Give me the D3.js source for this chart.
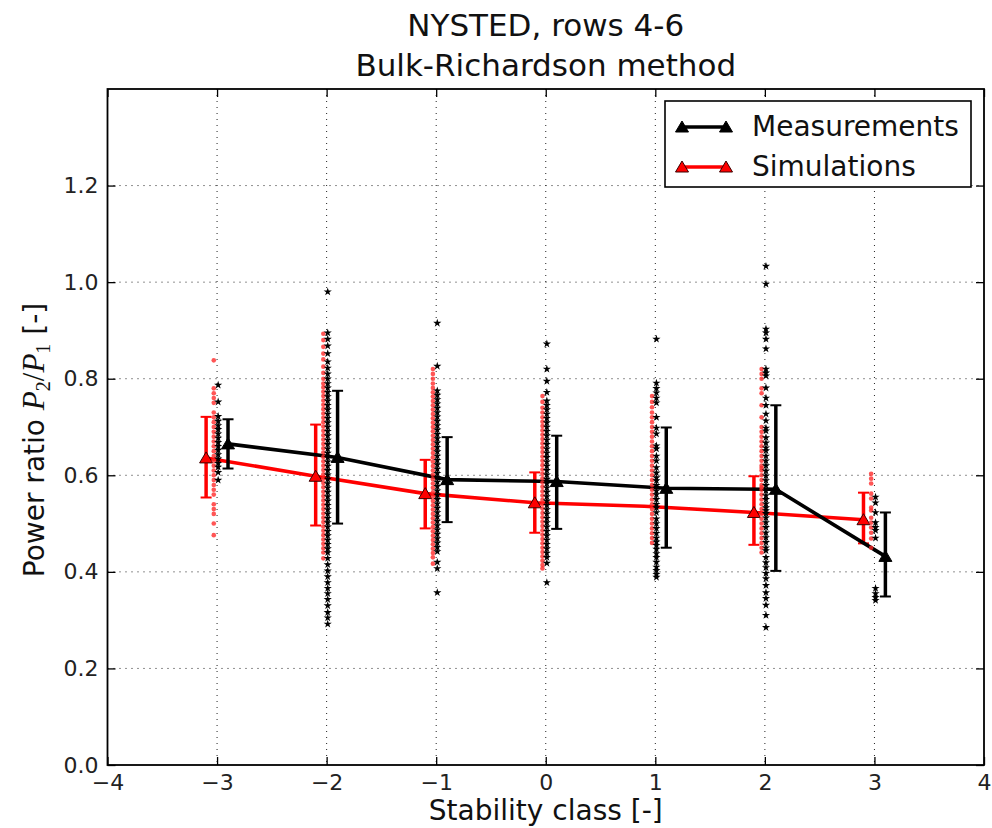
<!DOCTYPE html>
<html>
<head>
<meta charset="utf-8">
<script src="https://cdn.jsdelivr.net/npm/d3@7"></script>
<style>
  body { margin: 0; background: #fff; }
  svg { display: block; font-family: "DejaVu Sans", sans-serif; }
</style>
</head>
<body>
<svg id="chart" width="992" height="828"></svg>
<script>
// Stability classes and tick labels
const classes = [-3, -2, -1, 0, 1, 2, 3];
const xTicks = [-4, -3, -2, -1, 0, 1, 2, 3, 4];
const yTicks = [0, 0.2, 0.4, 0.6, 0.8, 1.0, 1.2];

// Measurements: class means with spread (drawn shifted right of the class)
const measX    = [-2.9, -1.9, -0.9, 0.1, 1.1, 2.1, 3.1];
const measMean = [0.665, 0.637, 0.591, 0.587, 0.573, 0.571, 0.432];
const measLow  = [0.614, 0.500, 0.503, 0.489, 0.450, 0.402, 0.349];
const measHigh = [0.716, 0.775, 0.679, 0.682, 0.699, 0.745, 0.523];

// Simulations: class means with spread (drawn shifted left of the class)
const simX    = [-3.1, -2.1, -1.1, -0.1, 0.9, 1.9, 2.9];
const simMean = [0.636, 0.598, 0.562, 0.543, 0.536, 0.523, 0.508];
const simLow  = [0.554, 0.496, 0.490, 0.481, null, 0.456, 0.459];
const simHigh = [0.721, 0.705, 0.632, 0.606, null, 0.598, 0.564];

// Individual 10-min samples per stability class (same order as classes)
const measSamples = [
  [0.787,0.752,0.722,0.712,0.703,0.695,0.686,0.677,0.668,0.66,0.652,0.643,0.634,0.625,0.617,0.606,0.59],
  [0.98,0.895,0.882,0.868,0.852,0.835,0.822,0.81,0.8,0.79,0.781,0.772,0.763,0.754,0.745,0.736,0.727,0.718,0.709,0.7,0.691,0.682,0.673,0.664,0.655,0.646,0.637,0.628,0.619,0.61,0.601,0.592,0.583,0.574,0.565,0.556,0.547,0.538,0.529,0.52,0.511,0.502,0.493,0.484,0.475,0.466,0.457,0.448,0.44,0.428,0.415,0.402,0.39,0.378,0.366,0.355,0.343,0.33,0.316,0.305,0.292],
  [0.915,0.826,0.775,0.766,0.757,0.748,0.739,0.73,0.721,0.712,0.703,0.694,0.685,0.676,0.667,0.658,0.649,0.64,0.631,0.622,0.613,0.604,0.595,0.586,0.577,0.568,0.559,0.55,0.541,0.532,0.523,0.514,0.505,0.496,0.487,0.478,0.469,0.46,0.451,0.442,0.42,0.407,0.357],
  [0.872,0.82,0.795,0.772,0.754,0.745,0.736,0.727,0.718,0.709,0.7,0.691,0.682,0.673,0.664,0.655,0.646,0.637,0.628,0.619,0.61,0.601,0.592,0.583,0.574,0.565,0.556,0.547,0.538,0.529,0.52,0.511,0.502,0.493,0.484,0.475,0.466,0.457,0.448,0.439,0.43,0.418,0.378],
  [0.882,0.791,0.78,0.771,0.76,0.75,0.72,0.698,0.686,0.661,0.655,0.64,0.63,0.616,0.605,0.595,0.589,0.579,0.568,0.56,0.55,0.54,0.533,0.523,0.51,0.5,0.49,0.48,0.47,0.462,0.455,0.447,0.438,0.43,0.42,0.41,0.403,0.395,0.389],
  [1.033,0.996,0.903,0.895,0.882,0.862,0.82,0.812,0.806,0.781,0.76,0.745,0.727,0.713,0.698,0.692,0.678,0.667,0.657,0.651,0.64,0.63,0.62,0.609,0.599,0.589,0.579,0.568,0.558,0.55,0.541,0.533,0.527,0.521,0.512,0.502,0.492,0.481,0.471,0.461,0.45,0.444,0.43,0.419,0.409,0.397,0.386,0.372,0.357,0.345,0.331,0.31,0.285],
  [0.555,0.543,0.523,0.502,0.492,0.486,0.47,0.366,0.355,0.347,0.341]
];
const simSamples = [
  [0.838,0.78,0.77,0.76,0.75,0.73,0.72,0.71,0.7,0.69,0.68,0.67,0.66,0.65,0.64,0.63,0.62,0.61,0.6,0.59,0.58,0.57,0.56,0.54,0.53,0.52,0.5,0.476],
  [0.893,0.88,0.866,0.852,0.84,0.825,0.812,0.8,0.79,0.782,0.773,0.764,0.755,0.746,0.737,0.728,0.719,0.71,0.701,0.692,0.683,0.674,0.665,0.656,0.647,0.638,0.629,0.62,0.611,0.602,0.593,0.584,0.575,0.566,0.557,0.548,0.539,0.53,0.521,0.512,0.503,0.494,0.485,0.476,0.467,0.458,0.449,0.44,0.428],
  [0.82,0.81,0.8,0.79,0.781,0.772,0.763,0.754,0.745,0.736,0.727,0.718,0.709,0.7,0.691,0.682,0.673,0.664,0.655,0.646,0.637,0.628,0.619,0.61,0.601,0.592,0.583,0.574,0.565,0.556,0.547,0.538,0.529,0.52,0.511,0.502,0.493,0.484,0.475,0.466,0.457,0.448,0.439,0.43,0.417],
  [0.764,0.752,0.74,0.73,0.72,0.711,0.702,0.693,0.684,0.675,0.666,0.657,0.648,0.639,0.63,0.621,0.612,0.603,0.594,0.585,0.576,0.567,0.558,0.549,0.54,0.531,0.522,0.513,0.504,0.495,0.486,0.477,0.468,0.459,0.45,0.441,0.432,0.423,0.414,0.407],
  [0.764,0.752,0.741,0.73,0.72,0.71,0.7,0.69,0.68,0.67,0.66,0.65,0.64,0.63,0.62,0.61,0.6,0.59,0.58,0.57,0.56,0.55,0.54,0.53,0.52,0.51,0.5,0.49,0.48,0.47,0.46],
  [0.82,0.81,0.8,0.78,0.77,0.745,0.72,0.7,0.69,0.68,0.67,0.66,0.65,0.64,0.63,0.62,0.615,0.61,0.6,0.59,0.58,0.575,0.57,0.56,0.55,0.54,0.53,0.52,0.51,0.5,0.49,0.48,0.47,0.46,0.45,0.44],
  [0.603,0.593,0.583,0.562,0.552,0.533,0.527,0.512,0.502,0.492,0.481,0.469,0.45]
];
const measSampleOffset = 0.01;
const simSampleOffset = -0.03;

(function () {
const svg = d3.select("#chart");
const pLeft = 107.5, pRight = 984, pTop = 89, pBottom = 765;

const x = d3.scaleLinear().domain([-4, 4]).range([pLeft, pRight]);
const y = d3.scaleLinear().domain([0, 1.4]).range([pBottom, pTop]);

const fmtX = d => (d < 0 ? "\u2212" + Math.abs(d) : String(d));
const fmtY = d3.format(".1f");

// Dotted grid
const grid = svg.append("g").attr("stroke", "#222").attr("stroke-width", 1)
  .attr("stroke-dasharray", "1,5");
grid.selectAll("line.gx").data(xTicks.slice(1, -1)).join("line")
  .attr("x1", d => x(d)).attr("x2", d => x(d)).attr("y1", pTop).attr("y2", pBottom);
grid.selectAll("line.gy").data(yTicks.slice(1)).join("line")
  .attr("y1", d => y(d)).attr("y2", d => y(d)).attr("x1", pLeft).attr("x2", pRight);

// Axes with inward ticks on all four sides
function styleAxis(g) {
  g.select(".domain").remove();
  g.selectAll(".tick line").attr("stroke", "#000").attr("stroke-width", 1.3);
  g.selectAll(".tick text").attr("fill", "#222").attr("font-size", 22)
    .attr("font-family", "DejaVu Sans, sans-serif");
}
svg.append("g").attr("transform", `translate(0,${pBottom})`)
  .call(d3.axisBottom(x).tickValues(xTicks).tickFormat(fmtX).tickSizeInner(-8).tickSizeOuter(0).tickPadding(9))
  .call(styleAxis);
svg.append("g").attr("transform", `translate(0,${pTop})`)
  .call(d3.axisTop(x).tickValues(xTicks).tickFormat("").tickSizeInner(-8).tickSizeOuter(0))
  .call(styleAxis);
svg.append("g").attr("transform", `translate(${pLeft},0)`)
  .call(d3.axisLeft(y).tickValues(yTicks).tickFormat(fmtY).tickSizeInner(-8).tickSizeOuter(0).tickPadding(9))
  .call(styleAxis);
svg.append("g").attr("transform", `translate(${pRight},0)`)
  .call(d3.axisRight(y).tickValues(yTicks).tickFormat("").tickSizeInner(-8).tickSizeOuter(0))
  .call(styleAxis);

const tri = "M0,-6L6.5,5L-6.5,5Z";

function drawSeries(xs, means, lows, highs, color, edge) {
  const g = svg.append("g");
  const pts = xs.map((d, i) => ({ x: d, m: means[i], lo: lows[i], hi: highs[i] }));
  const withErr = pts.filter(p => p.lo != null);
  // error bars and caps
  g.selectAll("line.bar").data(withErr).join("line")
    .attr("x1", p => x(p.x)).attr("x2", p => x(p.x))
    .attr("y1", p => y(p.lo)).attr("y2", p => y(p.hi))
    .attr("stroke", color).attr("stroke-width", 3.5);
  g.selectAll("line.capLo").data(withErr).join("line")
    .attr("x1", p => x(p.x) - 5.5).attr("x2", p => x(p.x) + 5.5)
    .attr("y1", p => y(p.lo)).attr("y2", p => y(p.lo))
    .attr("stroke", color).attr("stroke-width", 2);
  g.selectAll("line.capHi").data(withErr).join("line")
    .attr("x1", p => x(p.x) - 5.5).attr("x2", p => x(p.x) + 5.5)
    .attr("y1", p => y(p.hi)).attr("y2", p => y(p.hi))
    .attr("stroke", color).attr("stroke-width", 2);
  // connecting line
  g.append("path").datum(pts)
    .attr("d", d3.line().x(p => x(p.x)).y(p => y(p.m)))
    .attr("fill", "none").attr("stroke", color).attr("stroke-width", 3.6);
  // triangle markers
  g.selectAll("path.mk").data(withErr).join("path")
    .attr("d", tri)
    .attr("transform", p => `translate(${x(p.x)},${y(p.m)})`)
    .attr("fill", color).attr("stroke", edge).attr("stroke-width", 1);
}

drawSeries(simX, simMean, simLow, simHigh, "#ff0000", "#3a0000");
drawSeries(measX, measMean, measLow, measHigh, "#000000", "#000000");

// Sample clouds
const star = d3.symbol().type(d3.symbolStar).size(21);
classes.forEach((c, i) => {
  svg.append("g").selectAll("circle").data(simSamples[i]).join("circle")
    .attr("cx", x(c + simSampleOffset)).attr("cy", d => y(d)).attr("r", 2.3)
    .attr("fill", "#ff2a2a").attr("fill-opacity", 0.8);
  svg.append("g").selectAll("path").data(measSamples[i]).join("path")
    .attr("d", star)
    .attr("transform", d => `translate(${x(c + measSampleOffset)},${y(d)})`)
    .attr("fill", "#000");
});

// Frame
svg.append("rect").attr("x", pLeft).attr("y", pTop)
  .attr("width", pRight - pLeft).attr("height", pBottom - pTop)
  .attr("fill", "none").attr("stroke", "#000").attr("stroke-width", 1.8);

// Legend
const legend = svg.append("g");
legend.append("rect").attr("x", 665).attr("y", 101).attr("width", 306).attr("height", 86)
  .attr("fill", "#fff").attr("stroke", "#000").attr("stroke-width", 1.6);
const legendItems = [
  { label: "Measurements", color: "#000000", edge: "#000000" },
  { label: "Simulations", color: "#ff0000", edge: "#3a0000" }
];
legendItems.forEach((it, i) => {
  const cy = 127 + i * 40;
  legend.append("line").attr("x1", 682).attr("x2", 726).attr("y1", cy).attr("y2", cy)
    .attr("stroke", it.color).attr("stroke-width", 3.5);
  [682, 726].forEach(px => legend.append("path").attr("d", tri)
    .attr("transform", `translate(${px},${cy})`)
    .attr("fill", it.color).attr("stroke", it.edge).attr("stroke-width", 1));
  legend.append("text").attr("x", 752).attr("y", cy + 8.5)
    .attr("font-size", 28).attr("fill", "#111").text(it.label);
});

// Titles and axis labels
svg.append("text").attr("x", (pLeft + pRight) / 2).attr("y", 36)
  .attr("text-anchor", "middle").attr("font-size", 31).attr("fill", "#111")
  .text("NYSTED, rows 4-6");
svg.append("text").attr("x", (pLeft + pRight) / 2).attr("y", 76)
  .attr("text-anchor", "middle").attr("font-size", 31).attr("fill", "#111")
  .text("Bulk-Richardson method");
svg.append("text").attr("x", (pLeft + pRight) / 2).attr("y", 820)
  .attr("text-anchor", "middle").attr("font-size", 28).attr("fill", "#111")
  .text("Stability class [-]");

const yl = svg.append("text").attr("transform", "translate(44,440) rotate(-90)")
  .attr("text-anchor", "middle").attr("font-size", 28).attr("fill", "#111");
yl.append("tspan").text("Power ratio ");
const mathFont = "Liberation Serif, DejaVu Serif, serif";
yl.append("tspan").attr("font-family", mathFont).attr("font-style", "italic").attr("font-size", 31).text("P");
yl.append("tspan").attr("font-family", mathFont).attr("font-size", 20).attr("dy", 6).text("2");
yl.append("tspan").attr("font-family", mathFont).attr("font-size", 31).attr("dy", -6).text("/");
yl.append("tspan").attr("font-family", mathFont).attr("font-style", "italic").attr("font-size", 31).text("P");
yl.append("tspan").attr("font-family", mathFont).attr("font-size", 20).attr("dy", 6).text("1");
yl.append("tspan").attr("dy", -6).text(" [-]");
})();
</script>
</body>
</html>
